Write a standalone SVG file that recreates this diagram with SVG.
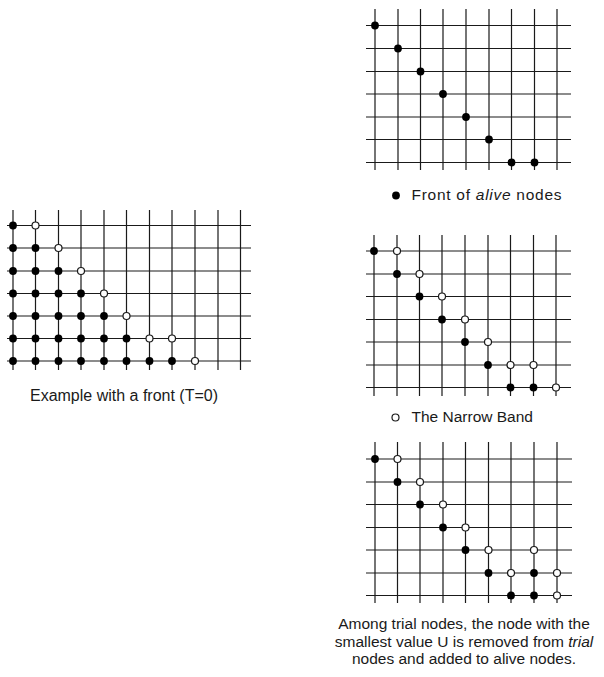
<svg xmlns="http://www.w3.org/2000/svg" xmlns:xlink="http://www.w3.org/1999/xlink" width="604" height="677" viewBox="0 0 604 677">
<style>
.grid{fill:none;stroke:#1a1a1a;stroke-width:1.2}
.t{font-family:"Liberation Sans",Arial,sans-serif;font-size:15.5px;fill:#1a1a1a}
.c{text-anchor:middle}
</style>
<defs>
<circle id="bd" cx="0" cy="0" r="3.9" fill="#000"/>
<circle id="wd" cx="0" cy="0" r="3.5" fill="#fff" stroke="#1a1a1a" stroke-width="1.2"/>
</defs>
<rect width="604" height="677" fill="#fff"/>

<g id="panel-left">
<path class="grid" d="M13 210V370M35.5 210V370M58.5 210V370M81 210V370M104 210V370M126.5 210V370M149.5 210V370M172 210V370M195 210V370M218 210V370M240.5 210V370M7 225.5H251M7 248H251M7 271H251M7 293.5H251M7 316H251M7 338.5H251M7 361H251"/>
<g id="left-nodes">
<use href="#bd" x="13" y="225.5"/><use href="#wd" x="35.5" y="225.5"/>
<use href="#bd" x="13" y="248"/><use href="#bd" x="35.5" y="248"/><use href="#wd" x="58.5" y="248"/>
<use href="#bd" x="13" y="271"/><use href="#bd" x="35.5" y="271"/><use href="#bd" x="58.5" y="271"/><use href="#wd" x="81" y="271"/>
<use href="#bd" x="13" y="293.5"/><use href="#bd" x="35.5" y="293.5"/><use href="#bd" x="58.5" y="293.5"/><use href="#bd" x="81" y="293.5"/><use href="#wd" x="104" y="293.5"/>
<use href="#bd" x="13" y="316"/><use href="#bd" x="35.5" y="316"/><use href="#bd" x="58.5" y="316"/><use href="#bd" x="81" y="316"/><use href="#bd" x="104" y="316"/><use href="#wd" x="126.5" y="316"/>
<use href="#bd" x="13" y="338.5"/><use href="#bd" x="35.5" y="338.5"/><use href="#bd" x="58.5" y="338.5"/><use href="#bd" x="81" y="338.5"/><use href="#bd" x="104" y="338.5"/><use href="#bd" x="126.5" y="338.5"/><use href="#wd" x="149.5" y="338.5"/><use href="#wd" x="172" y="338.5"/>
<use href="#bd" x="13" y="361"/><use href="#bd" x="35.5" y="361"/><use href="#bd" x="58.5" y="361"/><use href="#bd" x="81" y="361"/><use href="#bd" x="104" y="361"/><use href="#bd" x="126.5" y="361"/><use href="#bd" x="149.5" y="361"/><use href="#bd" x="172" y="361"/><use href="#wd" x="195" y="361"/>
</g>
<text class="t c" x="124" y="401" style="font-size:16px">Example with a front (T=0)</text>
</g>

<g id="panel-top">
<path class="grid" d="M375 9V170M398 9V170M420.5 9V170M443 9V170M466 9V170M489 9V170M511.5 9V170M534.5 9V170M557 9V170M366 25.5H571M366 48.5H571M366 71.5H571M366 94H571M366 117H571M366 139.5H571M366 162.5H571"/>
<g id="top-nodes">
<use href="#bd" x="375" y="25.5"/><use href="#bd" x="398" y="48.5"/><use href="#bd" x="420.5" y="71.5"/><use href="#bd" x="443" y="94"/><use href="#bd" x="466" y="117"/><use href="#bd" x="489" y="139.5"/><use href="#bd" x="511.5" y="162.5"/><use href="#bd" x="534.5" y="162.5"/>
</g>
<use href="#bd" x="396" y="195.5"/>
<text class="t" x="411.5" y="200" textLength="150" lengthAdjust="spacing">Front of <tspan font-style="italic">alive</tspan> nodes</text>
</g>

<g id="panel-middle">
<path class="grid" d="M374 235V396M397 235V396M419.5 235V396M442 235V396M465 235V396M488 235V396M510.5 235V396M533.5 235V396M556 235V396M366 251H571M366 274H571M366 296.5H571M366 319.5H571M366 342H571M366 365H571M366 387.5H571"/>
<g id="middle-nodes">
<use href="#bd" x="374" y="251"/><use href="#wd" x="397" y="251"/>
<use href="#bd" x="397" y="274"/><use href="#wd" x="419.5" y="274"/>
<use href="#bd" x="419.5" y="296.5"/><use href="#wd" x="442" y="296.5"/>
<use href="#bd" x="442" y="319.5"/><use href="#wd" x="465" y="319.5"/>
<use href="#bd" x="465" y="342"/><use href="#wd" x="488" y="342"/>
<use href="#bd" x="488" y="365"/><use href="#wd" x="510.5" y="365"/><use href="#wd" x="533.5" y="365"/>
<use href="#bd" x="510.5" y="387.5"/><use href="#bd" x="533.5" y="387.5"/><use href="#wd" x="556" y="387.5"/>
</g>
<use href="#wd" x="395.5" y="417.5"/>
<text class="t" x="411.5" y="422">The Narrow Band</text>
</g>

<g id="panel-bottom">
<path class="grid" d="M375 442V603M397.5 442V603M420 442V603M443 442V603M465.5 442V603M488.5 442V603M511 442V603M534 442V603M557 442V603M366 459H572M366 482H572M366 504.5H572M366 527.5H572M366 550H572M366 573H572M366 595.5H572"/>
<g id="bottom-nodes">
<use href="#bd" x="375" y="459"/><use href="#wd" x="397.5" y="459"/>
<use href="#bd" x="397.5" y="482"/><use href="#wd" x="420" y="482"/>
<use href="#bd" x="420" y="504.5"/><use href="#wd" x="443" y="504.5"/>
<use href="#bd" x="443" y="527.5"/><use href="#wd" x="465.5" y="527.5"/>
<use href="#bd" x="465.5" y="550"/><use href="#wd" x="488.5" y="550"/><use href="#wd" x="534" y="550"/>
<use href="#bd" x="488.5" y="573"/><use href="#wd" x="511" y="573"/><use href="#bd" x="534" y="573"/><use href="#wd" x="557" y="573"/>
<use href="#bd" x="511" y="595.5"/><use href="#bd" x="534" y="595.5"/><use href="#wd" x="557" y="595.5"/>
</g>
<text class="t c" x="464" y="629">Among trial nodes, the node with the</text>
<text class="t c" x="464" y="646.5">smallest value U is removed from <tspan font-style="italic">trial</tspan></text>
<text class="t c" x="464" y="664">nodes and added to alive nodes.</text>
</g>
</svg>
